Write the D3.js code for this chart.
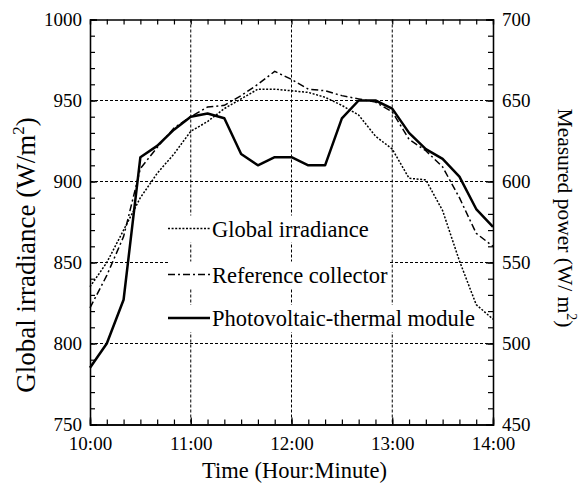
<!DOCTYPE html>
<html>
<head>
<meta charset="utf-8">
<script src="https://cdn.jsdelivr.net/npm/d3@7"></script>
<style>
  body { margin: 0; background: #fff; }
  svg { display: block; font-family: "Liberation Serif", "Times New Roman", serif; }
</style>
</head>
<body>
<svg id="chart" width="582" height="484"></svg>
<script>
// sample times (every 10 minutes)
const times = ['10:00', '10:10', '10:20', '10:30', '10:40', '10:50', '11:00', '11:10', '11:20', '11:30',
  '11:40', '11:50', '12:00', '12:10', '12:20', '12:30', '12:40', '12:50', '13:00', '13:10',
  '13:20', '13:30', '13:40', '13:50', '14:00'];

// global irradiance, left axis (W/m2)
const globalIrradiance = [835, 850, 870, 890, 905, 917, 931, 937, 945, 951,
  957, 957, 956, 955, 952, 947, 941, 928, 920, 902,
  901, 882, 851, 824, 815];

// measured power, right axis (W/m2)
const referenceCollector = [522, 542, 566, 608, 621, 633, 640, 646, 647, 653,
  660, 668, 663, 657, 656, 653, 651, 649, 643, 626,
  619, 609, 590, 568, 560];
const pvtModule = [485, 500, 527, 615, 622, 632, 640, 642, 639, 617,
  610, 615, 615, 610, 610, 639, 650, 650, 645, 630,
  620, 614, 603, 583, 572];

const xTicks = ['10:00', '11:00', '12:00', '13:00', '14:00'];
const leftTicks = [750, 800, 850, 900, 950, 1000];
const rightTicks = [450, 500, 550, 600, 650, 700];

const legendItems = [
  { name: 'Global irradiance', dash: '2,1.6', width: 1.5 },
  { name: 'Reference collector', dash: '7,3,2,3', width: 1.5 },
  { name: 'Photovoltaic-thermal module', dash: null, width: 2.5 }
];

const svg = d3.select('#chart');
const margin = { top: 19.5, right: 89, bottom: 59.5, left: 90 };
const width = 582 - margin.left - margin.right;
const height = 484 - margin.top - margin.bottom;

const parseTime = d3.timeParse('%H:%M');
const fmt = d3.timeFormat('%H:%M');

const x = d3.scaleTime()
  .domain([parseTime('10:00'), parseTime('14:00')])
  .range([0, width]);
const yL = d3.scaleLinear().domain([750, 1000]).range([height, 0]);
const yR = d3.scaleLinear().domain([450, 700]).range([height, 0]);

const g = svg.append('g').attr('transform', `translate(${margin.left},${margin.top})`);

// grid lines
const grid = g.append('g').attr('class', 'grid')
  .attr('stroke', '#000').attr('stroke-width', 1).attr('stroke-dasharray', '3,2');
grid.selectAll('.h').data(leftTicks.slice(1, -1)).join('line')
  .attr('x1', 0).attr('x2', width)
  .attr('y1', d => yL(d)).attr('y2', d => yL(d));
grid.selectAll('.v').data(xTicks.slice(1, -1)).join('line')
  .attr('y1', 0).attr('y2', height)
  .attr('x1', d => x(parseTime(d))).attr('x2', d => x(parseTime(d)));

// legend boxes hide the grid behind the labels
const legend = g.append('g').attr('class', 'legend')
  .attr('transform', `translate(${168 - margin.left},0)`);
const rowBase = [236.5, 282.5, 326];
legendItems.forEach((item, i) => {
  const row = legend.append('g').attr('transform', `translate(0,${rowBase[i] - margin.top})`);
  const bg = row.append('rect').attr('fill', '#fff');
  row.append('line')
    .attr('x1', 0).attr('x2', 42).attr('y1', -8).attr('y2', -8)
    .attr('stroke', '#000').attr('stroke-width', item.width)
    .attr('stroke-dasharray', item.dash);
  const t = row.append('text')
    .attr('x', 44).attr('y', 0)
    .attr('font-size', 22.5).attr('fill', '#000')
    .text(item.name);
  const w = t.node().getComputedTextLength();
  bg.attr('x', 0).attr('y', -21).attr('width', 44 + w + 1).attr('height', 27);
});

// data lines
const pts = vals => vals.map((v, i) => [parseTime(times[i]), v]);
const lineL = d3.line().x(d => x(d[0])).y(d => yL(d[1]));
const lineR = d3.line().x(d => x(d[0])).y(d => yR(d[1]));

g.append('path').datum(pts(globalIrradiance))
  .attr('fill', 'none').attr('stroke', '#000')
  .attr('stroke-width', legendItems[0].width).attr('stroke-dasharray', legendItems[0].dash)
  .attr('d', lineL);
g.append('path').datum(pts(referenceCollector))
  .attr('fill', 'none').attr('stroke', '#000')
  .attr('stroke-width', legendItems[1].width).attr('stroke-dasharray', legendItems[1].dash)
  .attr('d', lineR);
g.append('path').datum(pts(pvtModule))
  .attr('fill', 'none').attr('stroke', '#000')
  .attr('stroke-width', legendItems[2].width).attr('stroke-linejoin', 'round')
  .attr('d', lineR);

// axes, ticks pointing inward
const minorX = d3.timeMinute.every(10).range(parseTime('10:00'), parseTime('14:01'));
const styleAxis = sel => {
  sel.selectAll('path').attr('stroke', '#000').attr('stroke-width', 1.3);
  sel.selectAll('line').attr('stroke', '#000').attr('stroke-width', 1.2);
  sel.selectAll('text').attr('font-size', 19).attr('fill', '#000')
    .attr('font-family', '"Liberation Serif", "Times New Roman", serif');
};

g.append('g').attr('transform', `translate(0,${height})`)
  .call(d3.axisBottom(x).tickValues(minorX).tickSize(-5).tickFormat(''))
  .call(styleAxis);
g.append('g').attr('transform', `translate(0,${height})`)
  .call(d3.axisBottom(x).tickValues(xTicks.map(parseTime)).tickSize(-7).tickPadding(12).tickFormat(fmt))
  .call(styleAxis);
g.append('g')
  .call(d3.axisTop(x).tickValues(minorX).tickSize(-5).tickFormat(''))
  .call(styleAxis);

g.append('g')
  .call(d3.axisLeft(yL).tickValues(d3.range(750, 1001, 10)).tickSize(-5).tickFormat(''))
  .call(styleAxis);
g.append('g')
  .call(d3.axisLeft(yL).tickValues(leftTicks).tickSize(-7).tickPadding(8).tickFormat(d3.format('d')))
  .call(styleAxis);

g.append('g').attr('transform', `translate(${width},0)`)
  .call(d3.axisRight(yR).tickValues(d3.range(450, 701, 10)).tickSize(-5).tickFormat(''))
  .call(styleAxis);
g.append('g').attr('transform', `translate(${width},0)`)
  .call(d3.axisRight(yR).tickValues(rightTicks).tickSize(-7).tickPadding(9).tickFormat(d3.format('d')))
  .call(styleAxis);

// axis titles
svg.append('text')
  .attr('x', margin.left + width / 2 + 3).attr('y', 478)
  .attr('text-anchor', 'middle').attr('font-size', 22.5)
  .text('Time (Hour:Minute)');

const leftTitle = svg.append('text')
  .attr('transform', 'translate(35,255) rotate(-90)')
  .attr('text-anchor', 'middle').attr('font-size', 27);
leftTitle.append('tspan').text('Global irradiance (W/m');
leftTitle.append('tspan').attr('font-size', 17).attr('dy', -11).text('2');
leftTitle.append('tspan').attr('dy', 11).text(')');

const rightTitle = svg.append('text')
  .attr('transform', 'translate(558,218) rotate(90)')
  .attr('text-anchor', 'middle').attr('font-size', 21.5);
rightTitle.append('tspan').text('Measured power (W/ m');
rightTitle.append('tspan').attr('font-size', 14).attr('dy', -9).text('2');
rightTitle.append('tspan').attr('dy', 9).text(')');
</script>
</body>
</html>
